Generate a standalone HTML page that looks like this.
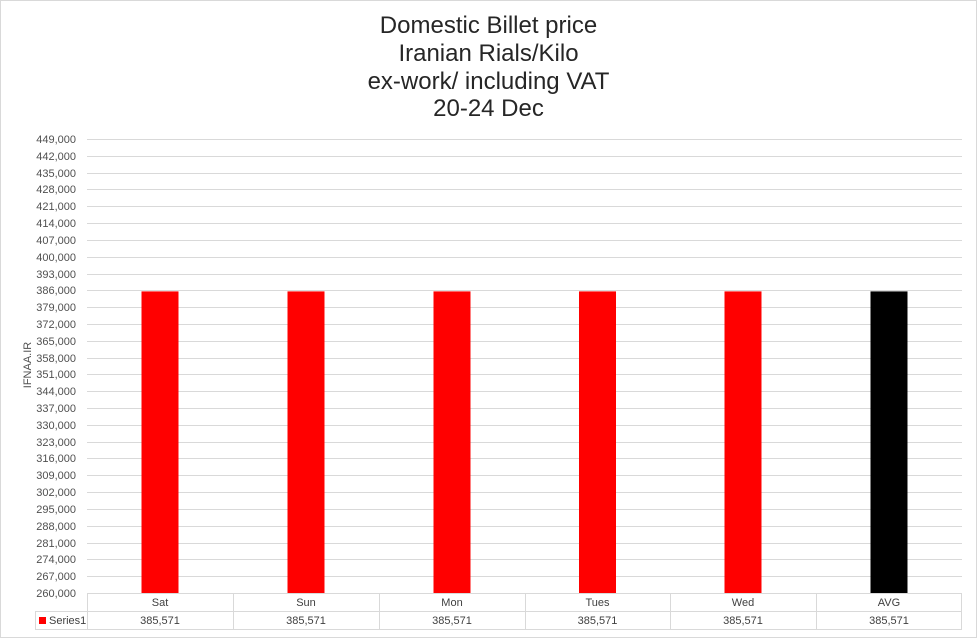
<!DOCTYPE html>
<html><head><meta charset="utf-8"><style>
html,body{margin:0;padding:0;background:#fff;}
svg{display:block;}
</style></head><body>
<svg width="977" height="638" viewBox="0 0 977 638" xmlns="http://www.w3.org/2000/svg" font-family="'Liberation Sans', Arial, sans-serif">
<rect x="0.5" y="0.5" width="976" height="637" fill="#fff" stroke="#d9d9d9" stroke-width="1"/>
<g fill="#262626" font-size="24" text-anchor="middle">
<text x="488.5" y="33">Domestic Billet price</text>
<text x="488.5" y="61">Iranian Rials/Kilo</text>
<text x="488.5" y="89">ex-work/ including VAT</text>
<text x="488.5" y="116">20-24 Dec</text>
</g>
<g stroke="#d9d9d9" stroke-width="1">
<line x1="87" x2="962" y1="139.5" y2="139.5"/>
<line x1="87" x2="962" y1="156.5" y2="156.5"/>
<line x1="87" x2="962" y1="173.5" y2="173.5"/>
<line x1="87" x2="962" y1="189.5" y2="189.5"/>
<line x1="87" x2="962" y1="206.5" y2="206.5"/>
<line x1="87" x2="962" y1="223.5" y2="223.5"/>
<line x1="87" x2="962" y1="240.5" y2="240.5"/>
<line x1="87" x2="962" y1="257.5" y2="257.5"/>
<line x1="87" x2="962" y1="274.5" y2="274.5"/>
<line x1="87" x2="962" y1="290.5" y2="290.5"/>
<line x1="87" x2="962" y1="307.5" y2="307.5"/>
<line x1="87" x2="962" y1="324.5" y2="324.5"/>
<line x1="87" x2="962" y1="341.5" y2="341.5"/>
<line x1="87" x2="962" y1="358.5" y2="358.5"/>
<line x1="87" x2="962" y1="374.5" y2="374.5"/>
<line x1="87" x2="962" y1="391.5" y2="391.5"/>
<line x1="87" x2="962" y1="408.5" y2="408.5"/>
<line x1="87" x2="962" y1="425.5" y2="425.5"/>
<line x1="87" x2="962" y1="442.5" y2="442.5"/>
<line x1="87" x2="962" y1="458.5" y2="458.5"/>
<line x1="87" x2="962" y1="475.5" y2="475.5"/>
<line x1="87" x2="962" y1="492.5" y2="492.5"/>
<line x1="87" x2="962" y1="509.5" y2="509.5"/>
<line x1="87" x2="962" y1="526.5" y2="526.5"/>
<line x1="87" x2="962" y1="543.5" y2="543.5"/>
<line x1="87" x2="962" y1="559.5" y2="559.5"/>
<line x1="87" x2="962" y1="576.5" y2="576.5"/>
</g>
<g fill="#505050" font-size="11" text-anchor="end">
<text x="76" y="143">449,000</text>
<text x="76" y="160">442,000</text>
<text x="76" y="177">435,000</text>
<text x="76" y="193">428,000</text>
<text x="76" y="210">421,000</text>
<text x="76" y="227">414,000</text>
<text x="76" y="244">407,000</text>
<text x="76" y="261">400,000</text>
<text x="76" y="278">393,000</text>
<text x="76" y="294">386,000</text>
<text x="76" y="311">379,000</text>
<text x="76" y="328">372,000</text>
<text x="76" y="345">365,000</text>
<text x="76" y="362">358,000</text>
<text x="76" y="378">351,000</text>
<text x="76" y="395">344,000</text>
<text x="76" y="412">337,000</text>
<text x="76" y="429">330,000</text>
<text x="76" y="446">323,000</text>
<text x="76" y="462">316,000</text>
<text x="76" y="479">309,000</text>
<text x="76" y="496">302,000</text>
<text x="76" y="513">295,000</text>
<text x="76" y="530">288,000</text>
<text x="76" y="547">281,000</text>
<text x="76" y="563">274,000</text>
<text x="76" y="580">267,000</text>
<text x="76" y="597">260,000</text>
</g>
<text transform="translate(31,365) rotate(-90)" fill="#505050" font-size="11" text-anchor="middle">IFNAA.IR</text>
<g>
<rect x="141.5" y="291.4" width="37" height="301.6" fill="#ff0000"/>
<rect x="287.5" y="291.4" width="37" height="301.6" fill="#ff0000"/>
<rect x="433.5" y="291.4" width="37" height="301.6" fill="#ff0000"/>
<rect x="579" y="291.4" width="37" height="301.6" fill="#ff0000"/>
<rect x="724.5" y="291.4" width="37" height="301.6" fill="#ff0000"/>
<rect x="870.5" y="291.4" width="37" height="301.6" fill="#000000"/>
</g>
<g stroke="#d9d9d9" stroke-width="1" fill="none">
<line x1="87" y1="593.5" x2="962" y2="593.5"/>
<line x1="35" y1="611.5" x2="962" y2="611.5"/>
<line x1="35" y1="629.5" x2="962" y2="629.5"/>
<line x1="35.5" y1="611" x2="35.5" y2="630"/>
<line x1="87.5" y1="593" x2="87.5" y2="630"/>
<line x1="233.5" y1="593" x2="233.5" y2="630"/>
<line x1="379.5" y1="593" x2="379.5" y2="630"/>
<line x1="525.5" y1="593" x2="525.5" y2="630"/>
<line x1="670.5" y1="593" x2="670.5" y2="630"/>
<line x1="816.5" y1="593" x2="816.5" y2="630"/>
<line x1="961.5" y1="593" x2="961.5" y2="630"/>
</g>
<rect x="39" y="617" width="7" height="7" fill="#ff0000"/>
<text x="49" y="624" fill="#404040" font-size="11">Series1</text>
<g fill="#404040" font-size="11" text-anchor="middle">
<text x="160" y="606">Sat</text>
<text x="306" y="606">Sun</text>
<text x="452" y="606">Mon</text>
<text x="597.5" y="606">Tues</text>
<text x="743" y="606">Wed</text>
<text x="889" y="606">AVG</text>
<text x="160" y="624">385,571</text>
<text x="306" y="624">385,571</text>
<text x="452" y="624">385,571</text>
<text x="597.5" y="624">385,571</text>
<text x="743" y="624">385,571</text>
<text x="889" y="624">385,571</text>
</g>
</svg>
</body></html>
